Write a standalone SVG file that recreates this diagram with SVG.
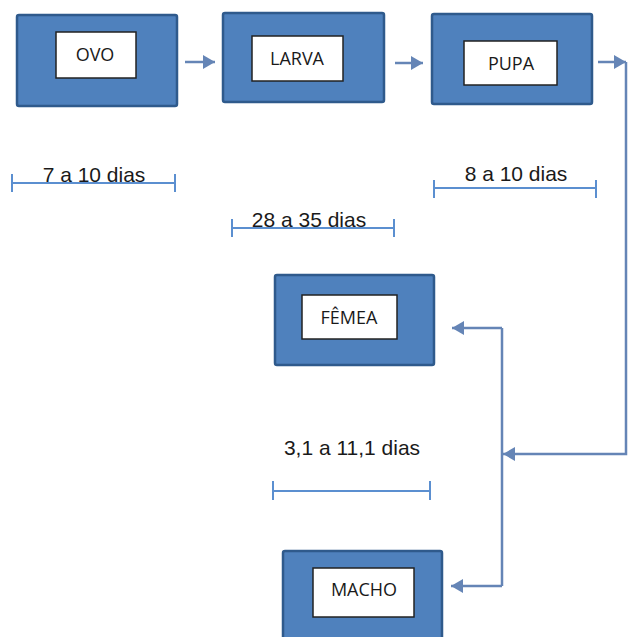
<svg xmlns="http://www.w3.org/2000/svg" width="628" height="637" viewBox="0 0 628 637">
<defs>
<style>
.outer{fill:#4F81BD;stroke:#2F5A8C;stroke-width:2.5}
.inner{fill:#FFFFFF;stroke:#222222;stroke-width:1.5}
.lbl{font-family:"Open Sans","Liberation Sans",sans-serif;font-size:18px;fill:#1a1a1a;text-anchor:middle}
.dim{font-family:"Liberation Sans",Arial,sans-serif;font-size:21px;fill:#1a1a1a;text-anchor:middle}
.conn{fill:none;stroke:#6585B6;stroke-width:2.5}
.dline{fill:none;stroke:#5B8FD0;stroke-width:2}
</style>
<marker id="ah" viewBox="0 0 12 14" refX="12" refY="7" markerWidth="12" markerHeight="14" markerUnits="userSpaceOnUse" orient="auto">
<path d="M0,0 L12,7 L0,14 Z" fill="#6585B6"/>
</marker>
</defs>
<rect width="628" height="637" fill="#FFFFFF"/>
<g id="ovo">
<rect class="outer" x="17" y="15" width="160" height="91" rx="2"/>
<rect class="inner" x="56" y="32" width="80" height="46"/>
<text class="lbl" x="95" y="61">OVO</text>
</g>
<g id="larva">
<rect class="outer" x="223" y="13" width="161" height="89" rx="2"/>
<rect class="inner" x="252" y="36" width="91" height="45"/>
<text class="lbl" x="297" y="65">LARVA</text>
</g>
<g id="pupa">
<rect class="outer" x="432" y="14" width="160" height="90" rx="2"/>
<rect class="inner" x="464" y="41" width="93" height="44"/>
<text class="lbl" x="511" y="70">PUPA</text>
</g>
<g id="femea">
<rect class="outer" x="275" y="275" width="159" height="90" rx="2"/>
<rect class="inner" x="302" y="295" width="95" height="44"/>
<text class="lbl" x="349" y="324">FÊMEA</text>
</g>
<g id="macho">
<rect class="outer" x="283" y="551" width="159" height="95" rx="2"/>
<rect class="inner" x="313" y="568" width="101" height="49"/>
<text class="lbl" x="364" y="596">MACHO</text>
</g>
<g id="connectors">
<line class="conn" x1="185" y1="62" x2="215" y2="62" marker-end="url(#ah)"/>
<line class="conn" x1="395" y1="63" x2="423" y2="63" marker-end="url(#ah)"/>
<line class="conn" x1="598" y1="62" x2="626" y2="62" marker-end="url(#ah)"/>
<polyline class="conn" points="626,62 626,454 503,454" marker-end="url(#ah)"/>
<polyline class="conn" points="502,328 502,586"/>
<line class="conn" x1="502" y1="328" x2="452" y2="328" marker-end="url(#ah)"/>
<line class="conn" x1="502" y1="586" x2="451" y2="586" marker-end="url(#ah)"/>
</g>
<g id="durations">
<path class="dline" d="M12,183 H175 M12,174 V192 M175,174 V192"/>
<text class="dim" x="94" y="182">7 a 10 dias</text>
<path class="dline" d="M232,228 H394 M232,219 V237 M394,219 V237"/>
<text class="dim" x="309" y="227">28 a 35 dias</text>
<path class="dline" d="M434,188 H596 M434,180 V198 M596,180 V198"/>
<text class="dim" x="516" y="181">8 a 10 dias</text>
<path class="dline" d="M273,491 H430 M273,481 V500 M430,481 V500"/>
<text class="dim" x="352" y="455">3,1 a 11,1 dias</text>
</g>
</svg>
